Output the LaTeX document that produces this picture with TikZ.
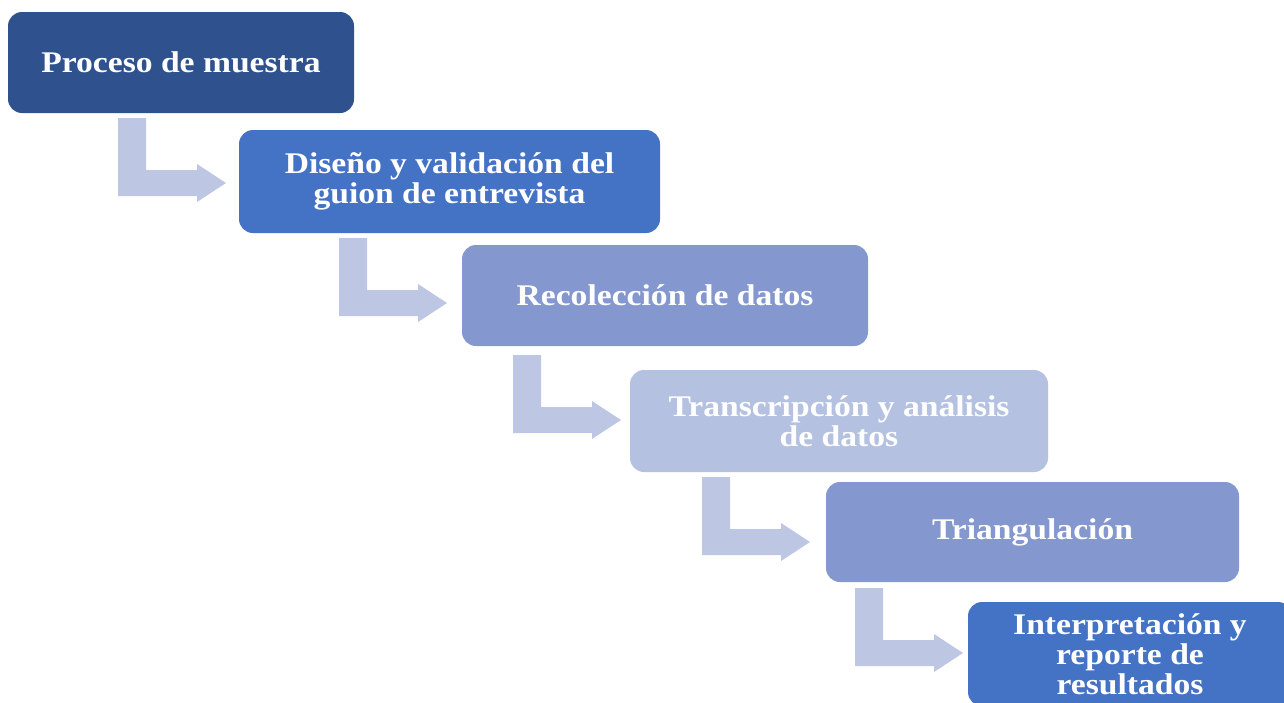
\documentclass[tikz,border=0pt]{standalone}
\usepackage{fontspec}
\setmainfont{Liberation Serif}[FakeStretch=1.12]
\definecolor{cA}{HTML}{2F528F}
\definecolor{cB}{HTML}{4472C4}
\definecolor{cC}{HTML}{8497CF}
\definecolor{cD}{HTML}{B4C1E1}
\definecolor{cArr}{HTML}{BDC7E3}
\tikzset{
  box/.style={rounded corners=14pt, inner sep=0pt, text=white, align=center,
    font=\fontsize{30}{30}\selectfont\bfseries},
  bent/.pic={\fill[cArr] (0,0) -- (28,0) -- (28,52) -- (79,52) -- (79,46) -- (108,65)
     -- (79,84) -- (79,78) -- (0,78) -- cycle;}
}
\begin{document}
\begin{tikzpicture}[x=1pt,y=-1pt]
\useasboundingbox (0,0) rectangle (1284,702);
\node[box, fill=cA, minimum width=346pt, minimum height=101pt] (b1) at (181,62.5) {Proceso de muestra};
\node[box, fill=cB, minimum width=421pt, minimum height=103pt] (b2) at (449.5,181.5) {Diseño y validación del\\guion de entrevista};
\node[box, fill=cC, minimum width=406pt, minimum height=101pt] (b3) at (665,295.5) {Recolección de datos};
\node[box, fill=cD, minimum width=418pt, minimum height=102pt] (b4) at (839,421) {Transcripción y análisis\\de datos};
\node[box, fill=cC, minimum width=413pt, minimum height=100pt] (b5) at (1032.5,532) {Triangulación};
\node[box, fill=cB, minimum width=324pt, minimum height=104pt] (b6) at (1130,654) {Interpretación y\\reporte de\\resultados};
\pic at (118,118) {bent};
\pic at (339,238) {bent};
\pic at (513,355) {bent};
\pic at (702,477) {bent};
\pic at (855,588) {bent};
\end{tikzpicture}
\end{document}
